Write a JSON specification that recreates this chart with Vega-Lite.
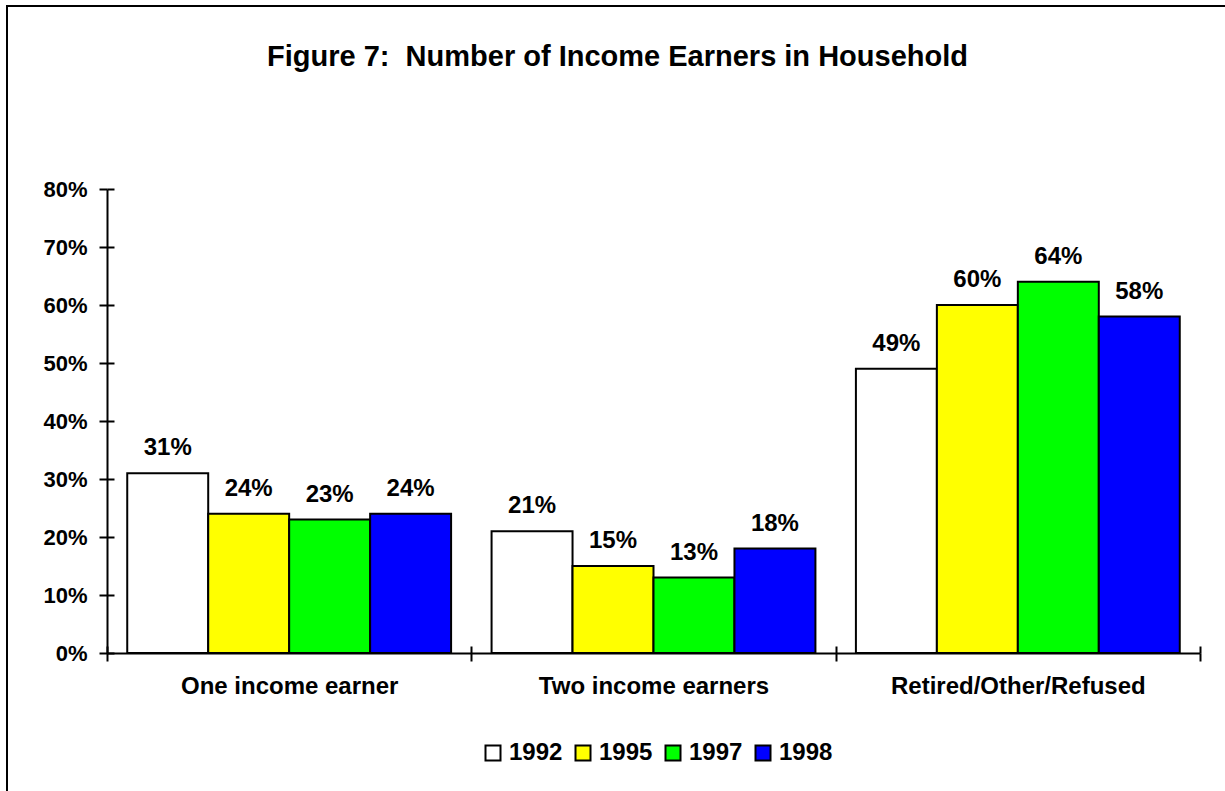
{
  "$schema": "https://vega.github.io/schema/vega-lite/v6.json",
  "autosize": "none",
  "padding": {"left": 7, "top": 6, "right": 0, "bottom": 0},
  "width": 1221,
  "height": 800,
  "background": "white",
  "title": {
    "text": "Figure 7:\u00a0 Number of Income Earners in Household",
    "font": "Liberation Sans",
    "fontSize": 29,
    "fontWeight": "bold",
    "color": "black",
    "anchor": "middle",
    "frame": "group",
    "baseline": "alphabetic",
    "offset": -89
  },
  "config": {
    "view": {"stroke": "black", "strokeWidth": 2},
    "font": "Liberation Sans"
  },
  "data": {
    "values": [
      {"cat": "One income earner", "year": "1992", "value": 0.31},
      {"cat": "One income earner", "year": "1995", "value": 0.24},
      {"cat": "One income earner", "year": "1997", "value": 0.23},
      {"cat": "One income earner", "year": "1998", "value": 0.24},
      {"cat": "Two income earners", "year": "1992", "value": 0.21},
      {"cat": "Two income earners", "year": "1995", "value": 0.15},
      {"cat": "Two income earners", "year": "1997", "value": 0.13},
      {"cat": "Two income earners", "year": "1998", "value": 0.18},
      {"cat": "Retired/Other/Refused", "year": "1992", "value": 0.49},
      {"cat": "Retired/Other/Refused", "year": "1995", "value": 0.60},
      {"cat": "Retired/Other/Refused", "year": "1997", "value": 0.64},
      {"cat": "Retired/Other/Refused", "year": "1998", "value": 0.58}
    ]
  },
  "encoding": {
    "x": {
      "field": "cat",
      "type": "nominal",
      "sort": ["One income earner", "Two income earners", "Retired/Other/Refused"],
      "scale": {"range": [100, 1193], "paddingInner": 0, "paddingOuter": 0}
    },
    "xOffset": {
      "field": "year",
      "type": "nominal",
      "scale": {"paddingInner": 0, "paddingOuter": 0.25}
    },
    "y": {
      "field": "value",
      "type": "quantitative",
      "scale": {"domain": [0, 0.8], "range": [647, 183], "nice": false, "zero": true}
    }
  },
  "layer": [
    {
      "mark": {"type": "bar", "stroke": "black", "strokeWidth": 2, "opacity": 1},
      "encoding": {
        "x": {
          "field": "cat",
          "type": "nominal",
          "sort": ["One income earner", "Two income earners", "Retired/Other/Refused"],
          "axis": {
            "orient": "bottom",
            "offset": -153,
            "title": null,
            "labelAngle": 0,
            "labelLimit": 0,
            "labelFont": "Liberation Sans",
            "labelFontSize": 24,
            "labelFontWeight": "bold",
            "labelColor": "black",
            "labelPadding": 13,
            "domainColor": "black",
            "domainWidth": 2,
            "tickColor": "black",
            "tickWidth": 2,
            "tickSize": 8,
            "tickBand": "extent",
            "grid": false
          }
        },
        "y": {
          "field": "value",
          "type": "quantitative",
          "axis": {
            "orient": "left",
            "offset": -100,
            "title": null,
            "values": [0, 0.1, 0.2, 0.3, 0.4, 0.5, 0.6, 0.7, 0.8],
            "format": ".0%",
            "labelFont": "Liberation Sans",
            "labelFontSize": 22,
            "labelFontWeight": "bold",
            "labelColor": "black",
            "labelPadding": 12,
            "domainColor": "black",
            "domainWidth": 2,
            "tickColor": "black",
            "tickWidth": 2,
            "tickSize": 8,
            "grid": false
          }
        },
        "fill": {
          "field": "year",
          "type": "nominal",
          "scale": {
            "domain": ["1992", "1995", "1997", "1998"],
            "range": ["#FFFFFF", "#FFFF00", "#00FF00", "#0000FF"]
          },
          "legend": {
            "orient": "none",
            "legendX": 474,
            "legendY": 735,
            "direction": "horizontal",
            "title": null,
            "symbolType": "square",
            "symbolSize": 225,
            "symbolStrokeColor": "black",
            "symbolStrokeWidth": 2,
            "symbolOpacity": 1,
            "labelFont": "Liberation Sans",
            "labelFontSize": 24,
            "labelFontWeight": "bold",
            "labelColor": "black",
            "labelOffset": 4,
            "columnPadding": 8
          }
        }
      }
    },
    {
      "mark": {
        "type": "text",
        "font": "Liberation Sans",
        "fontSize": 24,
        "fontWeight": "bold",
        "color": "black",
        "baseline": "alphabetic",
        "dy": -18
      },
      "encoding": {
        "x": {
          "field": "cat",
          "type": "nominal",
          "sort": ["One income earner", "Two income earners", "Retired/Other/Refused"],
          "axis": {
            "orient": "bottom",
            "offset": -153,
            "title": null,
            "labels": false,
            "domain": false,
            "tickColor": "black",
            "tickWidth": 2,
            "tickSize": -7,
            "tickBand": "extent",
            "grid": false
          }
        },
        "y": {
          "field": "value",
          "type": "quantitative",
          "axis": {
            "orient": "left",
            "offset": -100,
            "title": null,
            "values": [0, 0.1, 0.2, 0.3, 0.4, 0.5, 0.6, 0.7, 0.8],
            "labels": false,
            "domain": false,
            "tickColor": "black",
            "tickWidth": 2,
            "tickSize": -7,
            "grid": false
          }
        },
        "text": {"field": "value", "type": "quantitative", "format": ".0%"}
      }
    }
  ],
  "resolve": {"axis": {"x": "independent", "y": "independent"}}
}
